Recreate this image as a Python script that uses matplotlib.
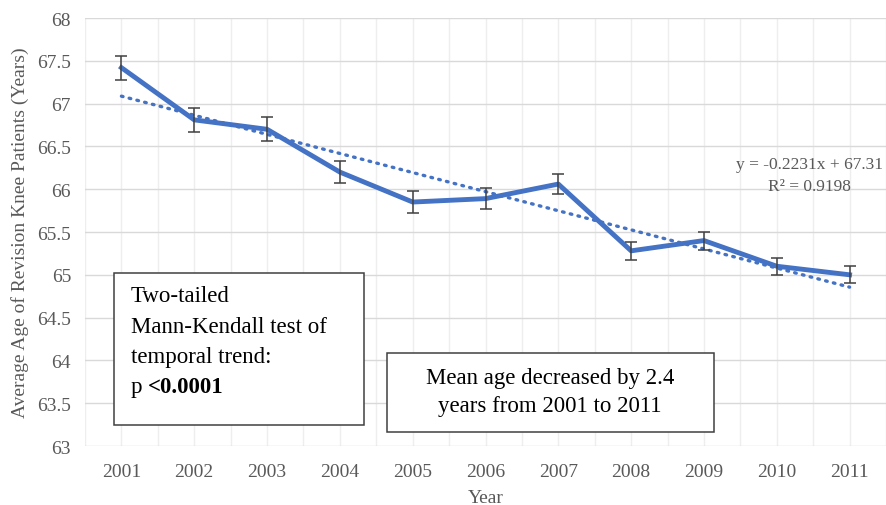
import matplotlib.pyplot as plt

years = [2001, 2002, 2003, 2004, 2005, 2006, 2007, 2008, 2009, 2010, 2011]
mean_age = [67.42, 66.81, 66.70, 66.20, 65.85, 65.89, 66.06, 65.28, 65.40, 65.10, 65.00]
err = [0.14, 0.14, 0.14, 0.13, 0.13, 0.12, 0.115, 0.105, 0.105, 0.10, 0.10]
ytick_vals = [63, 63.5, 64, 64.5, 65, 65.5, 66, 66.5, 67, 67.5, 68]
ytick_labels = ['63', '63.5', '64', '64.5', '65', '65.5', '66', '66.5', '67', '67.5', '68']

# linear trend as reported (x = 1..11)
slope = -0.2231
intercept = 67.31
r2 = 0.9198

plt.rcParams['font.family'] = ['Liberation Serif', 'DejaVu Serif']
gray = '#595959'
blue = '#4472C4'

fig = plt.figure(figsize=(8.86, 5.06), dpi=100)
ax = fig.add_axes([85 / 886, 59 / 506, 1 - 85 / 886, (447 - 19) / 506])

x = list(range(1, len(years) + 1))
trend = [slope * i + intercept for i in x]

ax.plot(x, trend, color=blue, lw=2.4, linestyle=(0, (0.5, 1.9)),
        dash_capstyle='round', zorder=3)
ax.plot(x, mean_age, color=blue, lw=3.5, solid_joinstyle='round', zorder=4)
ax.errorbar(x, mean_age, yerr=err, fmt='none', ecolor='#404040',
            elinewidth=1.1, capsize=4, capthick=1.1, zorder=5)

ax.set_xlim(0.5, 0.5 + (886 - 85) / 74)
ax.set_ylim(63, 68)
ax.set_yticks(ytick_vals)
ax.set_yticklabels(ytick_labels)
ax.set_xticks(x)
ax.set_xticklabels([str(y) for y in years])
ax.set_xticks([i + 0.5 for i in range(0, 12)], minor=True)

ax.grid(axis='y', which='major', color='#d9d9d9', lw=1.0)
ax.grid(axis='x', which='both', color='#eeeeee', lw=1.0)
ax.set_axisbelow(True)
for s in ax.spines.values():
    s.set_visible(False)
ax.tick_params(which='both', length=0, labelsize=14, colors=gray)
ax.tick_params(axis='x', pad=12)
ax.tick_params(axis='y', pad=10)

ax.set_xlabel('Year', fontsize=14, color=gray, labelpad=7)
ax.set_ylabel('Average Age of Revision Knee Patients (Years)', fontsize=14,
              color=gray, labelpad=6)

fig.text(809 / 886, 1 - 165 / 506, 'y = -0.2231x + 67.31', ha='center', va='center',
         fontsize=12.5, color=gray)
fig.text(809 / 886, 1 - 187 / 506, 'R² = 0.9198', ha='center', va='center',
         fontsize=12.5, color=gray)

# annotation boxes
box1 = plt.Rectangle((114 / 886, 1 - 426 / 506), 250 / 886, 152 / 506,
                     transform=fig.transFigure, facecolor='white',
                     edgecolor='#404040', lw=1.1, zorder=6)
fig.add_artist(box1)
lines1 = ['Two-tailed', 'Mann-Kendall test of', 'temporal trend:']
for i, t in enumerate(lines1):
    fig.text(131 / 886, 1 - (297 + 30.5 * i) / 506, t, ha='left', va='center',
             fontsize=16.5, color='black', zorder=7)
fig.text(131 / 886, 1 - 388 / 506, 'p', ha='left', va='center',
         fontsize=16.5, color='black', zorder=7)
fig.text(148 / 886, 1 - 388 / 506, '<0.0001', ha='left', va='center',
         fontsize=16.5, color='black', fontweight='bold', zorder=7)

box2 = plt.Rectangle((387 / 886, 1 - 433 / 506), 327 / 886, 79 / 506,
                     transform=fig.transFigure, facecolor='white',
                     edgecolor='#404040', lw=1.1, zorder=6)
fig.add_artist(box2)
fig.text(550 / 886, 1 - 379 / 506, 'Mean age decreased by 2.4', ha='center',
         va='center', fontsize=16.5, color='black', zorder=7)
fig.text(550 / 886, 1 - 407 / 506, 'years from 2001 to 2011', ha='center',
         va='center', fontsize=16.5, color='black', zorder=7)

fig.savefig('out.png', dpi=100)
